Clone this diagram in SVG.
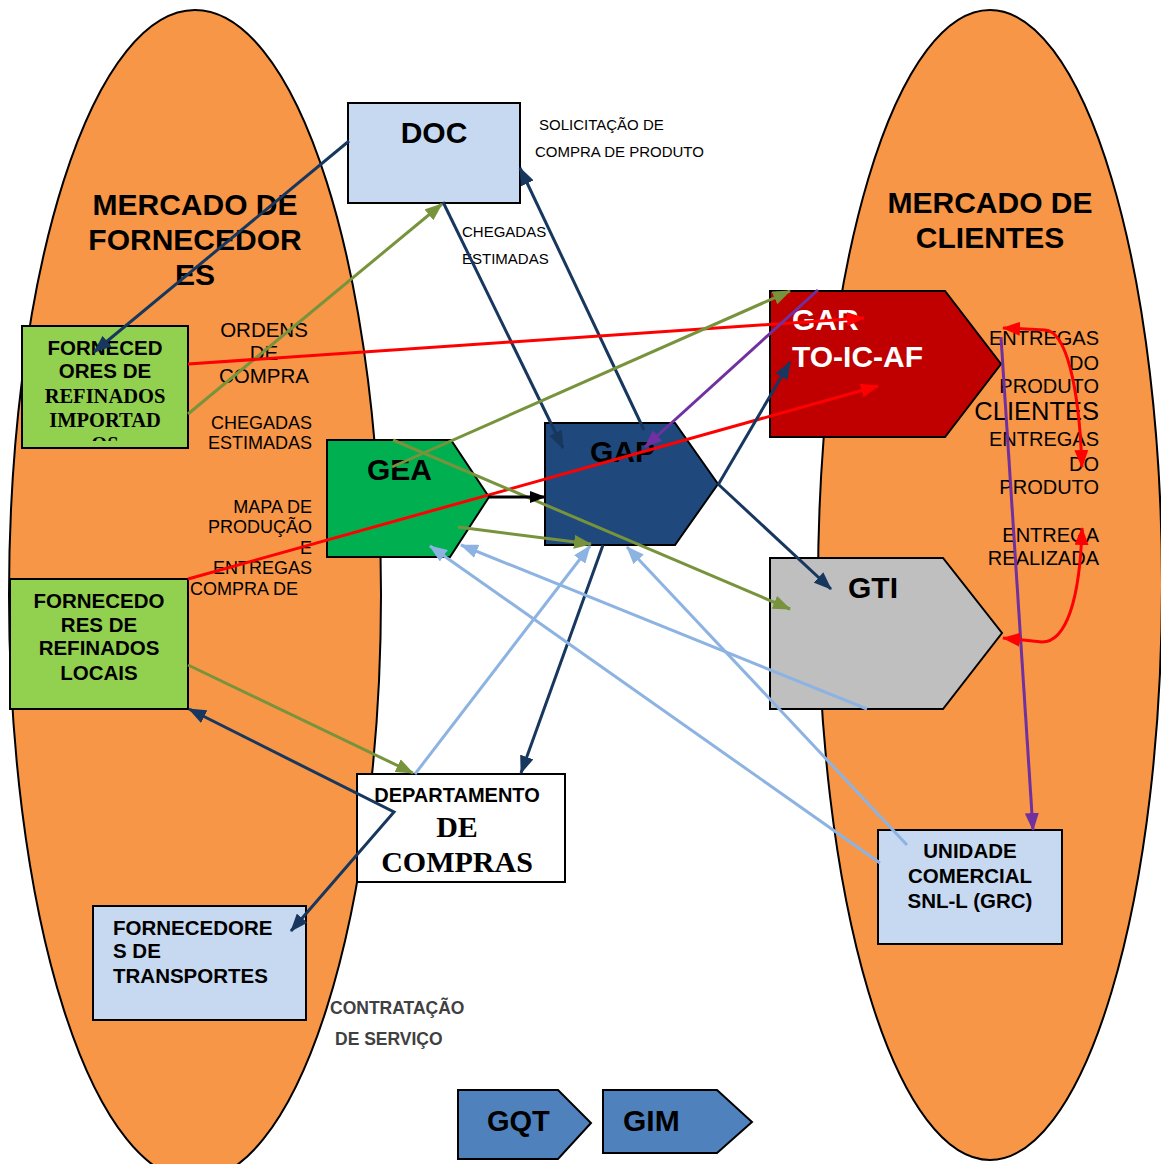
<svg xmlns="http://www.w3.org/2000/svg" width="1161" height="1164" viewBox="0 0 1161 1164">
<style>
.ell{fill:#f79646;stroke:#000;stroke-width:2}
.nd{stroke:#000;stroke-width:2}
.t{font-family:"Liberation Sans",Arial,sans-serif;fill:#000}
.b{font-weight:bold}
.tm{font-family:"Liberation Serif","Times New Roman",serif;font-weight:bold;fill:#000}
.c{fill:none;stroke-width:3}
.navy{stroke:#17375e}
.olive{stroke:#77933c}
.red{stroke:#ff0000}
.purple{stroke:#7030a0}
.lb{stroke:#8db3e2}
.blk{stroke:#000}
</style>
<defs>
<marker id="aN" markerUnits="userSpaceOnUse" markerWidth="18" markerHeight="14" refX="17" refY="7" orient="auto-start-reverse"><path d="M0,0 L18,7 L0,14 Z" fill="#17375e"/></marker>
<marker id="aO" markerUnits="userSpaceOnUse" markerWidth="18" markerHeight="14" refX="17" refY="7" orient="auto-start-reverse"><path d="M0,0 L18,7 L0,14 Z" fill="#77933c"/></marker>
<marker id="aR" markerUnits="userSpaceOnUse" markerWidth="18" markerHeight="14" refX="17" refY="7" orient="auto-start-reverse"><path d="M0,0 L18,7 L0,14 Z" fill="#ff0000"/></marker>
<marker id="aP" markerUnits="userSpaceOnUse" markerWidth="18" markerHeight="14" refX="17" refY="7" orient="auto-start-reverse"><path d="M0,0 L18,7 L0,14 Z" fill="#7030a0"/></marker>
<marker id="aL" markerUnits="userSpaceOnUse" markerWidth="18" markerHeight="14" refX="17" refY="7" orient="auto-start-reverse"><path d="M0,0 L18,7 L0,14 Z" fill="#8db3e2"/></marker>
<marker id="aK" markerUnits="userSpaceOnUse" markerWidth="16" markerHeight="12" refX="15" refY="6" orient="auto"><path d="M0,0 L16,6 L0,12 Z" fill="#000"/></marker>
<clipPath id="clipImp"><rect x="22" y="326" width="166" height="115"/></clipPath>
</defs>

<g id="mercado-fornecedores">
<ellipse class="ell" cx="195" cy="595" rx="186" ry="585"/>
<text class="t b" font-size="30" text-anchor="middle"><tspan x="195" y="215">MERCADO DE</tspan><tspan x="195" y="250">FORNECEDOR</tspan><tspan x="195" y="285">ES</tspan></text>
</g>
<g id="mercado-clientes">
<ellipse class="ell" cx="990" cy="585" rx="172" ry="575"/>
<text class="t b" font-size="30" text-anchor="middle"><tspan x="990" y="213">MERCADO DE</tspan><tspan x="990" y="248">CLIENTES</tspan></text>
</g>

<g id="labels">
<text class="t" font-size="15"><tspan x="539" y="130">SOLICITAÇÃO DE</tspan><tspan x="535" y="157">COMPRA DE PRODUTO</tspan></text>
<text class="t" font-size="15"><tspan x="462" y="237">CHEGADAS</tspan><tspan x="462" y="264">ESTIMADAS</tspan></text>
<text class="t" font-size="20.5" text-anchor="middle"><tspan x="264" y="337">ORDENS</tspan><tspan x="264" y="360">DE</tspan><tspan x="264" y="383">COMPRA</tspan></text>
<text class="t" font-size="18" text-anchor="end"><tspan x="312" y="429">CHEGADAS</tspan><tspan x="312" y="449">ESTIMADAS</tspan></text>
<text class="t" font-size="18" text-anchor="end"><tspan x="312" y="513">MAPA DE</tspan><tspan x="312" y="533">PRODUÇÃO</tspan><tspan x="312" y="554">E</tspan><tspan x="312" y="574">ENTREGAS</tspan></text>
<text class="t" font-size="18" x="190" y="595">COMPRA DE</text>
<text class="t" font-size="20" text-anchor="end"><tspan x="1099" y="345">ENTREGAS</tspan><tspan x="1099" y="370">DO</tspan><tspan x="1099" y="393">PRODUTO</tspan></text>
<text class="t" font-size="25.5" text-anchor="end" x="1099" y="420">CLIENTES</text>
<text class="t" font-size="20" text-anchor="end"><tspan x="1099" y="446">ENTREGAS</tspan><tspan x="1099" y="471">DO</tspan><tspan x="1099" y="494">PRODUTO</tspan></text>
<text class="t" font-size="20" text-anchor="end"><tspan x="1099" y="542">ENTREGA</tspan><tspan x="1099" y="565">REALIZADA</tspan></text>
<text class="t b" font-size="17.5" fill="#404040" style="fill:#404040"><tspan x="330" y="1014">CONTRATAÇÃO</tspan><tspan x="335" y="1045">DE SERVIÇO</tspan></text>
</g>

<g id="doc">
<rect class="nd" x="348" y="103" width="172" height="100" fill="#c6d9f1"/>
<text class="t b" font-size="30" x="434" y="143" text-anchor="middle">DOC</text>
</g>
<g id="fornecedores-importados">
<rect class="nd" x="22" y="326" width="166" height="122" fill="#92d050"/>
<g clip-path="url(#clipImp)">
<text class="t b" font-size="20.5" text-anchor="middle"><tspan x="105" y="355">FORNECED</tspan><tspan x="105" y="378">ORES DE</tspan></text>
<text class="tm" font-size="20.5" text-anchor="middle"><tspan x="105" y="403">REFINADOS</tspan><tspan x="105" y="427">IMPORTAD</tspan><tspan x="105" y="451">OS</tspan></text>
</g>
</g>
<g id="fornecedores-locais">
<rect class="nd" x="10" y="579" width="178" height="130" fill="#92d050"/>
<text class="t b" font-size="20.5" text-anchor="middle"><tspan x="99" y="608">FORNECEDO</tspan><tspan x="99" y="632">RES DE</tspan><tspan x="99" y="655">REFINADOS</tspan><tspan x="99" y="680">LOCAIS</tspan></text>
</g>
<g id="gea">
<path class="nd" d="M327,440 L451,440 L489,497 L450,557 L327,557 Z" fill="#00b050"/>
<text class="t b" font-size="30" x="367" y="480">GEA</text>
</g>
<g id="gap">
<path class="nd" d="M545,423 L675,423 L718,484 L675,545 L545,545 Z" fill="#1f497d"/>
<text class="t b" font-size="30" x="590" y="462">GAP</text>
</g>
<g id="gar">
<path class="nd" d="M770,291 L945,291 L1001,364 L945,437 L770,437 Z" fill="#c00000"/>
<text class="t b" font-size="30" fill="#fff" style="fill:#fff"><tspan x="792" y="330">GAR</tspan><tspan x="792" y="367">TO-IC-AF</tspan></text>
</g>
<g id="gti">
<path class="nd" d="M770,558 L943,558 L1002,633 L943,709 L770,709 Z" fill="#bfbfbf"/>
<text class="t b" font-size="30" x="848" y="598">GTI</text>
</g>
<g id="departamento-compras">
<rect class="nd" x="357" y="774" width="208" height="108" fill="#fff"/>
<text class="t b" font-size="20" x="457" y="802" text-anchor="middle">DEPARTAMENTO</text>
<text class="tm" font-size="30" text-anchor="middle"><tspan x="457" y="837">DE</tspan><tspan x="457" y="872">COMPRAS</tspan></text>
</g>
<g id="unidade-comercial">
<rect class="nd" x="878" y="830" width="184" height="114" fill="#c6d9f1"/>
<text class="t b" font-size="20.5" text-anchor="middle"><tspan x="970" y="858">UNIDADE</tspan><tspan x="970" y="883">COMERCIAL</tspan><tspan x="970" y="908">SNL-L (GRC)</tspan></text>
</g>
<g id="fornecedores-transportes">
<rect class="nd" x="93" y="906" width="213" height="114" fill="#c6d9f1"/>
<text class="t b" font-size="20.5"><tspan x="113" y="935">FORNECEDORE</tspan><tspan x="113" y="958">S DE</tspan><tspan x="113" y="983">TRANSPORTES</tspan></text>
</g>
<g id="gqt">
<path class="nd" d="M458,1090 L558,1090 L591,1123 L558,1159 L458,1159 Z" fill="#4f81bd"/>
<text class="t b" font-size="29" x="487" y="1131">GQT</text>
</g>
<g id="gim">
<path class="nd" d="M603,1090 L717,1090 L752,1122 L717,1153 L603,1153 Z" fill="#4f81bd"/>
<text class="t b" font-size="30" x="623" y="1131">GIM</text>
</g>

<g id="connectors">
<line class="c navy" x1="349" y1="141" x2="94" y2="352" marker-end="url(#aN)"/>
<line class="c olive" x1="188" y1="414" x2="442" y2="204" marker-end="url(#aO)"/>
<line class="c navy" x1="443" y1="202" x2="563" y2="448" marker-end="url(#aN)"/>
<line class="c navy" x1="644" y1="430" x2="520" y2="168" marker-end="url(#aN)"/>
<line class="c red" x1="188" y1="364" x2="864" y2="318" marker-end="url(#aR)"/>
<line class="c red" x1="188" y1="579" x2="878" y2="386" marker-end="url(#aR)"/>
<line class="c olive" x1="392" y1="467" x2="790" y2="291" marker-end="url(#aO)"/>
<line class="c olive" x1="393" y1="440" x2="790" y2="609" marker-end="url(#aO)"/>
<line class="c olive" x1="458" y1="527" x2="591" y2="544" marker-end="url(#aO)"/>
<line class="c blk" x1="488" y1="497" x2="545" y2="497" marker-end="url(#aK)"/>
<line class="c purple" x1="818" y1="290" x2="645" y2="447" marker-end="url(#aP)"/>
<line class="c navy" x1="718" y1="485" x2="790" y2="362" marker-end="url(#aN)"/>
<line class="c navy" x1="718" y1="484" x2="831" y2="589" marker-end="url(#aN)"/>
<line class="c navy" x1="603" y1="545" x2="521" y2="773" marker-end="url(#aN)"/>
<line class="c lb" x1="415" y1="774" x2="590" y2="546" marker-end="url(#aL)"/>
<line class="c lb" x1="867" y1="709" x2="461" y2="545" marker-end="url(#aL)"/>
<line class="c lb" x1="880" y1="863" x2="430" y2="546" marker-end="url(#aL)"/>
<line class="c lb" x1="907" y1="845" x2="627" y2="547" marker-end="url(#aL)"/>
<line class="c olive" x1="188" y1="665" x2="413" y2="773" marker-end="url(#aO)"/>
<polyline class="c navy" points="189,709 394,812 291,931" marker-start="url(#aN)" marker-end="url(#aN)"/>
<line class="c purple" x1="1001" y1="337" x2="1033" y2="830" marker-end="url(#aP)"/>
<path class="c red" d="M1003,328 L1045,330 C1066,331 1079,385 1082,467" marker-start="url(#aR)" marker-end="url(#aR)"/>
<path class="c red" d="M1003,638 L1042,642 C1066,642 1080,600 1082,528" marker-start="url(#aR)" marker-end="url(#aR)"/>
</g>
</svg>
